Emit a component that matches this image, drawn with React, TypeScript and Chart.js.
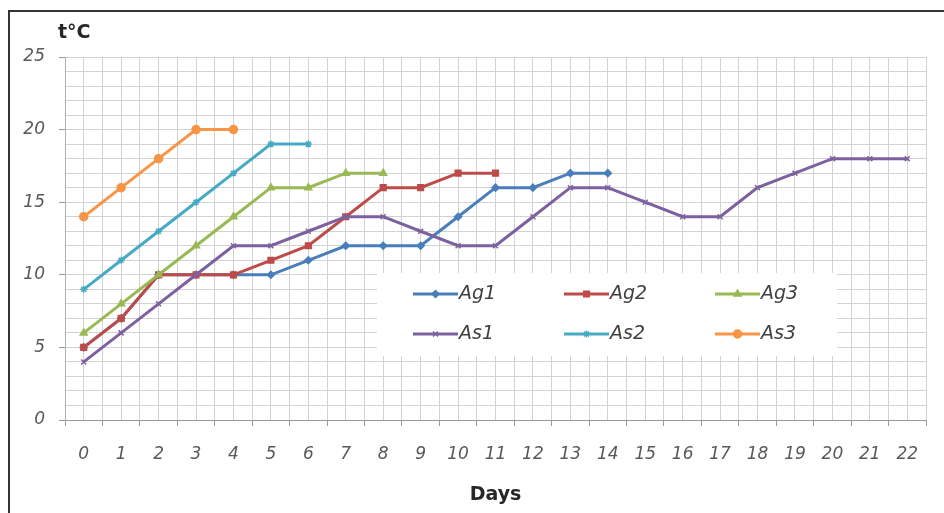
import React, { useEffect, useRef } from 'react';
import { Chart, registerables } from 'chart.js';
import { drawPoint } from 'chart.js/helpers';

Chart.register(...registerables);

const days = [0, 1, 2, 3, 4, 5, 6, 7, 8, 9, 10, 11, 12, 13, 14, 15, 16, 17, 18, 19, 20, 21, 22];
const seriesNames = ['Ag1', 'Ag2', 'Ag3', 'As1', 'As2', 'As3'];
const ag1 = [5, 7, 10, 10, 10, 10, 11, 12, 12, 12, 14, 16, 16, 17, 17];
const ag2 = [5, 7, 10, 10, 10, 11, 12, 14, 16, 16, 17, 17];
const ag3 = [6, 8, 10, 12, 14, 16, 16, 17, 17];
const as1 = [4, 6, 8, 10, 12, 12, 13, 14, 14, 13, 12, 12, 14, 16, 16, 15, 14, 14, 16, 17, 18, 18, 18];
const as2 = [9, 11, 13, 15, 17, 19, 19];
const as3 = [14, 16, 18, 20, 20];
const yTickLabels = [0, 5, 10, 15, 20, 25];
const xAxisTitle = 'Days';
const yAxisTitle = 't°C';

const seriesValues = [ag1, ag2, ag3, as1, as2, as3];
const colors = ['#4a7ebb', '#be4b48', '#98b954', '#7d60a0', '#46aac5', '#f79646'];
const pointStyles = ['rectRot', 'rect', 'triangle', 'crossRot', 'star', 'circle'];
const pointRadii = [3.5, 4, 4, 3.5, 3.5, 4];

const FONT = '"DejaVu Sans", sans-serif';

const overlayPlugin = {
  id: 'overlay',
  afterDraw(chart: any) {
    const { ctx, chartArea } = chart;
    ctx.save();
    ctx.font = `bold 19px ${FONT}`;
    ctx.fillStyle = '#262626';
    ctx.textBaseline = 'middle';
    ctx.textAlign = 'left';
    ctx.fillText(yAxisTitle, chartArea.left - 7, chartArea.top - 24);

    const bx = chartArea.left + 312;
    const by = chartArea.top + 216;
    ctx.fillStyle = '#ffffff';
    ctx.fillRect(bx, by, 460, 83);

    chart.data.datasets.forEach((ds: any, i: number) => {
      const col = i % 3;
      const row = Math.floor(i / 3);
      const lx = bx + 36 + col * 151;
      const ly = by + 21 + row * 40;
      ctx.strokeStyle = ds.borderColor;
      ctx.lineWidth = 3;
      ctx.beginPath();
      ctx.moveTo(lx, ly);
      ctx.lineTo(lx + 45, ly);
      ctx.stroke();
      ctx.fillStyle = ds.backgroundColor;
      ctx.strokeStyle = ds.borderColor;
      ctx.lineWidth = 1.5;
      drawPoint(ctx, { pointStyle: ds.pointStyle, radius: ds.pointRadius, rotation: 0, borderWidth: 1.5 }, lx + 22.5, ly);
      ctx.fillStyle = '#404040';
      ctx.font = `italic 19px ${FONT}`;
      ctx.textAlign = 'left';
      ctx.textBaseline = 'middle';
      ctx.fillText(ds.label, lx + 46, ly);
    });
    ctx.restore();
  },
};

export default function App() {
  const ref = useRef<HTMLCanvasElement | null>(null);

  useEffect(() => {
    if (!ref.current) return;
    const datasets = seriesValues.map((vals, i) => ({
      label: seriesNames[i],
      data: vals.map((v, j) => ({ x: days[j], y: v })),
      borderColor: colors[i],
      backgroundColor: colors[i],
      borderWidth: 3,
      pointStyle: pointStyles[i],
      pointRadius: pointRadii[i],
      pointBorderWidth: 1.5,
      pointBorderColor: colors[i],
      pointBackgroundColor: colors[i],
      tension: 0,
      order: 6 - i,
    }));

    const chart = new Chart(ref.current, {
      type: 'line',
      data: { datasets },
      plugins: [overlayPlugin],
      options: {
        animation: false,
        responsive: false,
        devicePixelRatio: 1,
        layout: { padding: { left: 0, right: 9, top: 45, bottom: 0 } },
        plugins: {
          legend: { display: false },
          tooltip: { enabled: false },
        },
        scales: {
          x: {
            type: 'linear',
            min: -0.5,
            max: 22.5,
            afterFit: (s: any) => { s.height = 93; },
            ticks: {
              stepSize: 0.5,
              autoSkip: false,
              maxRotation: 0,
              minRotation: 0,
              padding: 18,
              color: '#595959',
              font: { family: FONT, style: 'italic', size: 17 },
              callback: (v: any) => (Number.isInteger(v) && days.includes(v) ? String(v) : ''),
            },
            grid: {
              color: '#d2d2d2',
              lineWidth: 1,
              tickLength: 6,
              tickColor: (c: any) => (Number.isInteger(c.tick?.value) ? 'rgba(0,0,0,0)' : '#9a9a9a'),
            },
            border: { color: '#9a9a9a' },
            title: {
              display: true,
              text: xAxisTitle,
              color: '#262626',
              font: { family: FONT, weight: 'bold', size: 19, lineHeight: 1 },
              padding: { top: 0, bottom: 8 },
            },
          },
          y: {
            min: 0,
            max: 25,
            afterFit: (s: any) => { s.width = 55; },
            ticks: {
              stepSize: 1,
              autoSkip: false,
              padding: 14,
              color: '#595959',
              font: { family: FONT, style: 'italic', size: 17 },
              callback: (v: any) => (yTickLabels.includes(v) ? String(v) : ''),
            },
            grid: {
              color: '#d2d2d2',
              lineWidth: 1,
              tickLength: 6,
              tickColor: (c: any) => (yTickLabels.includes(c.tick?.value) ? '#9a9a9a' : 'rgba(0,0,0,0)'),
            },
            border: { color: '#b0b0b0' },
          },
        },
      },
    } as any);
    return () => chart.destroy();
  }, []);

  return (
    <div
      style={{
        position: 'fixed',
        left: 8,
        top: 10,
        width: 936,
        height: 503,
        boxSizing: 'border-box',
        borderLeft: '2px solid #333',
        borderTop: '2px solid #333',
        background: '#fff',
      }}
    >
      <canvas ref={ref} width={934} height={501} style={{ display: 'block' }} />
    </div>
  );
}
